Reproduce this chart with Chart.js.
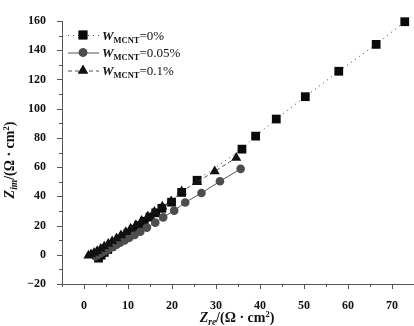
<!DOCTYPE html>
<html>
<head>
<meta charset="utf-8">
<script src="https://cdn.jsdelivr.net/npm/chart.js@4.4.1/dist/chart.umd.min.js"></script>
<style>
html,body{margin:0;padding:0;background:#fff;}
#wrap{width:414px;height:326px;position:relative;}
</style>
</head>
<body>
<div id="wrap"><canvas id="c" width="414" height="326"></canvas></div>
<script>
// ---- data ----
const sqX = [3.3, 3.9, 4.6, 5.4, 6.2, 7.1, 8.0, 9.0, 10.0, 11.2, 12.4, 13.7, 15.0, 16.3, 17.7, 19.9, 22.2, 25.7, 35.9, 39.0, 43.7, 50.3, 57.9, 66.4, 72.9];
const sqY = [-2.3, -0.3, 1.6, 3.6, 5.6, 7.8, 10.0, 12.3, 14.7, 17.3, 20.0, 22.9, 25.8, 28.7, 31.8, 36.0, 42.7, 51.0, 72.3, 81.2, 92.9, 108.2, 125.6, 144.0, 159.5];
const cirX = [2.6, 3.2, 3.9, 4.6, 5.4, 6.3, 7.2, 8.2, 9.2, 10.3, 11.5, 12.8, 14.3, 16.2, 18.0, 20.5, 23.0, 26.7, 30.9, 35.6];
const cirY = [-1.0, 0.0, 1.2, 2.4, 3.7, 5.1, 6.6, 8.2, 9.8, 11.6, 13.6, 15.8, 18.6, 22.0, 25.6, 30.2, 35.8, 42.3, 50.3, 58.8];
const triX = [1.0, 1.6, 2.3, 3.0, 3.8, 4.6, 5.5, 6.4, 7.4, 8.4, 9.5, 10.6, 11.8, 13.1, 14.5, 16.0, 17.8, 19.8, 22.2, 25.7, 29.7, 34.6];
const triY = [-0.5, 0.3, 1.3, 2.6, 4.1, 5.7, 7.5, 9.3, 11.3, 13.3, 15.6, 17.9, 20.4, 23.2, 26.2, 29.4, 33.0, 36.6, 43.4, 49.8, 57.1, 66.3];
const seriesNames = ["0%", "0.05%", "0.1%"];
const xTickLabels = [0, 10, 20, 30, 40, 50, 60, 70];
const yTickLabels = [-20, 0, 20, 40, 60, 80, 100, 120, 140, 160];

const pts = (xs, ys) => xs.map((x, i) => ({x: x, y: ys[i]}));
const SERIF = "'Liberation Serif', 'DejaVu Serif', serif";

const styles = [
  {pointStyle: 'rect', radius: 6.2, color: '#0a0a0a', line: '#444', dash: [1, 4], lw: 1},
  {pointStyle: 'circle', radius: 4.3, color: '#4d4d4d', line: '#555', dash: [], lw: 1},
  {pointStyle: 'triangle', radius: 5.8, color: '#111', line: '#555', dash: [4, 3], lw: 1}
];

function drawRich(ctx, parts, x, y) {
  let cx = x;
  for (const p of parts) {
    ctx.font = p.font;
    ctx.fillText(p.t, cx, y + (p.dy || 0));
    cx += ctx.measureText(p.t).width;
  }
  return cx - x;
}
function richWidth(ctx, parts) {
  let w = 0;
  for (const p of parts) { ctx.font = p.font; w += ctx.measureText(p.t).width; }
  return w;
}

const decor = {
  id: 'decor',
  afterDraw(chart) {
    const ctx = chart.ctx;
    const xs = chart.scales.x, ys = chart.scales.y;
    const area = chart.chartArea;
    ctx.save();
    ctx.strokeStyle = '#555';
    ctx.lineWidth = 1;
    for (let v = -5; v <= 75; v += 5) {
      const px = Math.round(xs.getPixelForValue(v)) + 0.5;
      const len = (v % 10 === 0) ? 5 : 3;
      ctx.beginPath(); ctx.moveTo(px, area.bottom); ctx.lineTo(px, area.bottom + len); ctx.stroke();
    }
    for (let v = -20; v <= 160; v += 10) {
      const py = Math.round(ys.getPixelForValue(v)) + 0.5;
      const len = (v % 20 === 0) ? 5 : 3;
      ctx.beginPath(); ctx.moveTo(area.left, py); ctx.lineTo(area.left - len, py); ctx.stroke();
    }
    ctx.fillStyle = '#111';
    ctx.textBaseline = 'alphabetic';
    const titleParts = (sub) => [
      {t: 'Z', font: 'italic bold 14px ' + SERIF},
      {t: sub, font: 'italic bold 9.5px ' + SERIF, dy: 3},
      {t: '/(\u03A9 \u00B7 cm', font: 'bold 14px ' + SERIF},
      {t: '2', font: 'bold 8.5px ' + SERIF, dy: -5},
      {t: ')', font: 'bold 14px ' + SERIF}
    ];
    const xt = titleParts('re');
    const xw = richWidth(ctx, xt);
    drawRich(ctx, xt, 237 - xw / 2, 322);
    const yt = titleParts('im');
    const yw = richWidth(ctx, yt);
    ctx.save();
    ctx.translate(14, 160);
    ctx.rotate(-Math.PI / 2);
    drawRich(ctx, yt, -yw / 2, 0);
    ctx.restore();
    const rows = [35, 52.5, 70.5];
    for (let i = 0; i < 3; i++) {
      const s = styles[i];
      const y = rows[i];
      ctx.save();
      ctx.strokeStyle = s.line;
      ctx.lineWidth = s.lw;
      ctx.setLineDash(s.dash);
      ctx.beginPath(); ctx.moveTo(68, y + 0.5); ctx.lineTo(99, y + 0.5); ctx.stroke();
      ctx.restore();
      ctx.save();
      ctx.fillStyle = s.color;
      ctx.strokeStyle = s.color;
      Chart.helpers.drawPoint(ctx, {pointStyle: s.pointStyle, radius: s.radius, rotation: 0, borderWidth: 0}, 83, y);
      ctx.fill();
      ctx.restore();
      ctx.fillStyle = '#111';
      drawRich(ctx, [
        {t: 'W', font: 'italic bold 13px ' + SERIF},
        {t: 'MCNT', font: 'bold 8.5px ' + SERIF, dy: 3},
        {t: '=' + seriesNames[i], font: '13px ' + SERIF}
      ], 102, y + 4.5);
    }
    ctx.restore();
  }
};

const datasets = [sqX, cirX, triX].map((xs, i) => {
  const ys = [sqY, cirY, triY][i];
  const s = styles[i];
  return {
    label: seriesNames[i],
    data: pts(xs, ys),
    showLine: true,
    borderColor: s.line,
    borderWidth: s.lw,
    borderDash: s.dash,
    pointStyle: s.pointStyle,
    pointRadius: s.radius,
    pointBackgroundColor: s.color,
    pointBorderColor: s.color,
    pointBorderWidth: 0,
    order: [3, 2, 1][i]
  };
});

new Chart(document.getElementById('c'), {
  type: 'scatter',
  data: {datasets: datasets},
  options: {
    responsive: false,
    animation: false,
    devicePixelRatio: 1,
    clip: false,
    layout: {autoPadding: false, padding: {top: 21, right: 0, left: 0, bottom: 0}},
    plugins: {legend: {display: false}, tooltip: {enabled: false}},
    scales: {
      x: {
        type: 'linear', min: -5, max: 75,
        afterBuildTicks: (s) => { s.ticks = xTickLabels.map(v => ({value: v})); },
        afterFit: (s) => { s.height = 42; s.paddingLeft = 0; s.paddingRight = 0; },
        grid: {display: false},
        border: {display: true, color: '#555', width: 1},
        ticks: {
          autoSkip: false, maxRotation: 0, minRotation: 0, padding: 7,
          color: '#111',
          font: {family: SERIF, size: 12, weight: 'bold'},
          callback: (v) => String(v)
        }
      },
      y: {
        type: 'linear', min: -20, max: 160,
        afterBuildTicks: (s) => { s.ticks = yTickLabels.map(v => ({value: v})); },
        afterFit: (s) => { s.width = 62; s.paddingTop = 0; s.paddingBottom = 0; },
        grid: {display: false},
        border: {display: true, color: '#555', width: 1},
        ticks: {
          autoSkip: false, padding: 8,
          color: '#111',
          font: {family: SERIF, size: 12, weight: 'bold'},
          callback: (v) => (v < 0 ? '\u2212' + Math.abs(v) : String(v))
        }
      }
    }
  },
  plugins: [decor]
});
</script>
</body>
</html>
